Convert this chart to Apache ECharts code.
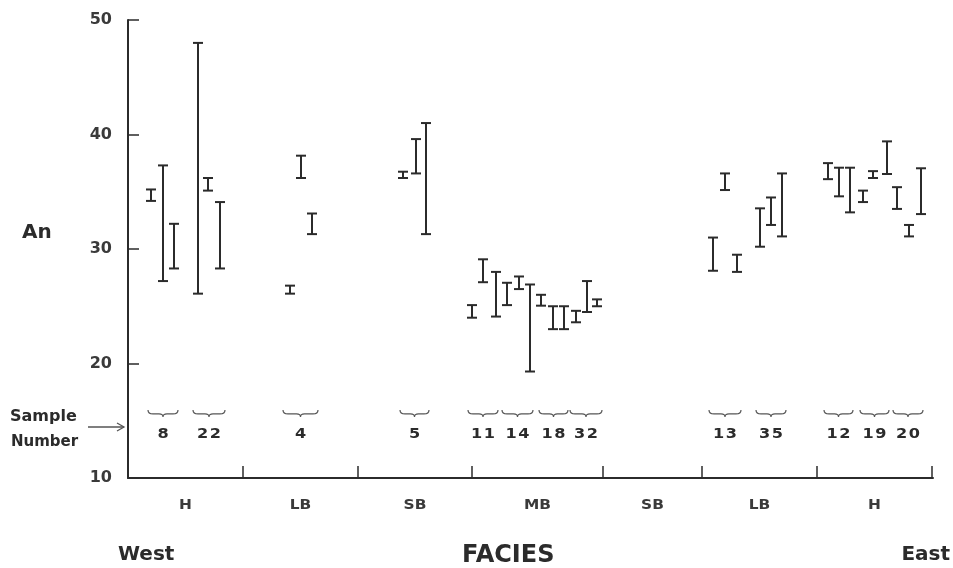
<!DOCTYPE html>
<html>
<head>
<meta charset="utf-8">
<script src="https://cdn.jsdelivr.net/npm/echarts@6/dist/echarts.min.js"></script>
<style>
html,body{margin:0;padding:0;background:#fff;}
#chart{width:953px;height:568px;}
</style>
</head>
<body>
<div id="chart"></div>
<script>
// Facies along the West→East transect (boundaries in transect distance units)
var faciesNames = ['H', 'LB', 'SB', 'MB', 'SB', 'LB', 'H'];
var faciesBounds = [0, 115, 230, 344, 475, 574, 689, 804];

// An content ranges: position along transect, low, high
var barPos  = [23, 35, 46, 70, 80, 92, 162, 173, 184, 275, 288, 298,
               344, 355, 368, 379, 391, 402, 413, 425, 436, 448, 459, 469,
               585, 597, 609, 632, 643, 654, 700, 711, 722, 735, 745, 759, 769, 781, 793];
var barLow  = [34.2, 27.2, 28.3, 26.1, 35.1, 28.3, 26.1, 36.2, 31.3, 36.2, 36.6, 31.3,
               24.0, 27.1, 24.1, 25.1, 26.5, 19.3, 25.05, 23.0, 23.0, 23.6, 24.5, 25.0,
               28.1, 35.15, 28.0, 30.2, 32.1, 31.1, 36.1, 34.6, 33.2, 34.1, 36.2, 36.55, 33.5, 31.1, 33.05];
var barHigh = [35.2, 37.3, 32.2, 48.0, 36.2, 34.1, 26.8, 38.15, 33.1, 36.75, 39.6, 41.0,
               25.1, 29.1, 28.0, 27.05, 27.6, 26.9, 26.0, 25.0, 25.0, 24.6, 27.2, 25.6,
               31.0, 36.6, 29.5, 33.55, 34.5, 36.6, 37.5, 37.1, 37.1, 35.1, 36.8, 39.4, 35.4, 32.1, 37.05];

// Sample groups: label, start, end along transect
var sampleLabels = ['8', '22', '4', '5', '11', '14', '18', '32', '13', '35', '12', '19', '20'];
var sampleStart  = [20, 65, 155, 272, 340, 374, 411, 442, 581, 628, 696, 732, 765];
var sampleEnd    = [50, 97, 190, 301, 370, 405, 440, 474, 613, 658, 725, 761, 795];

var yTicks = [10, 20, 30, 40, 50];
var braceLevel = 15.6;
var sampleNumLevel = 13.85;

var FONT = '"DejaVu Sans", Verdana, sans-serif';
var INK = '#2b2b2b';

var barData = barPos.map(function (x, i) { return [x, barLow[i], barHigh[i]]; });
var sampleData = sampleLabels.map(function (l, i) { return [sampleStart[i], sampleEnd[i], l]; });
var boundData = faciesBounds.slice(1).map(function (b) { return [b]; });
var faciesData = faciesNames.map(function (n, i) { return [(faciesBounds[i] + faciesBounds[i + 1]) / 2, n]; });

var chart = echarts.init(document.getElementById('chart'));
chart.setOption({
  animation: false,
  backgroundColor: '#fff',
  grid: { left: 128, top: 20, width: 805, height: 458 },
  xAxis: {
    type: 'value', min: faciesBounds[0], max: 805,
    axisLine: { show: true, lineStyle: { color: INK, width: 2 } },
    axisTick: { show: false }, axisLabel: { show: false }, splitLine: { show: false }
  },
  yAxis: {
    type: 'value', min: yTicks[0], max: yTicks[yTicks.length - 1], interval: 10,
    axisLine: { show: true, lineStyle: { color: INK, width: 2 } },
    axisTick: { show: true, inside: true, length: 11, lineStyle: { color: INK, width: 1.5 } },
    axisLabel: { color: '#3a3a3a', fontFamily: FONT, fontWeight: 'bold', fontSize: 16, margin: 16 },
    splitLine: { show: false }
  },
  series: [
    {
      type: 'custom', name: 'ranges', data: barData, clip: false,
      renderItem: function (params, api) {
        var top = api.coord([api.value(0), api.value(2)]);
        var bot = api.coord([api.value(0), api.value(1)]);
        var hw = 5;
        var st = { stroke: INK, lineWidth: 2 };
        return { type: 'group', children: [
          { type: 'line', shape: { x1: top[0], y1: top[1], x2: bot[0], y2: bot[1] }, style: st },
          { type: 'line', shape: { x1: top[0] - hw, y1: top[1], x2: top[0] + hw, y2: top[1] }, style: st },
          { type: 'line', shape: { x1: bot[0] - hw, y1: bot[1], x2: bot[0] + hw, y2: bot[1] }, style: st }
        ] };
      }
    },
    {
      type: 'custom', name: 'bounds', data: boundData, clip: false,
      renderItem: function (params, api) {
        var p = api.coord([api.value(0), yTicks[0]]);
        return { type: 'line', shape: { x1: p[0], y1: p[1], x2: p[0], y2: p[1] - 12 },
                 style: { stroke: INK, lineWidth: 1.5 } };
      }
    },
    {
      type: 'custom', name: 'facies', data: faciesData, clip: false,
      renderItem: function (params, api) {
        var p = api.coord([api.value(0), yTicks[0]]);
        return { type: 'text', x: p[0], y: p[1] + 27, scaleX: 1.1,
                 style: { text: faciesNames[params.dataIndex], fill: '#3a3a3a', font: 'bold 14px ' + FONT,
                          align: 'center', verticalAlign: 'middle' } };
      }
    },
    {
      type: 'custom', name: 'samples', data: sampleData, clip: false,
      renderItem: function (params, api) {
        var a = api.coord([api.value(0), braceLevel]);
        var b = api.coord([api.value(1), braceLevel]);
        var t = api.coord([(api.value(0) + api.value(1)) / 2, sampleNumLevel]);
        var x0 = a[0], x1 = b[0], y = a[1], m = (x0 + x1) / 2;
        var path = 'M' + x0 + ' ' + (y - 4) +
          ' Q' + x0 + ' ' + y + ' ' + (x0 + 5) + ' ' + y +
          ' L' + (m - 4) + ' ' + y +
          ' Q' + m + ' ' + y + ' ' + m + ' ' + (y + 3) +
          ' Q' + m + ' ' + y + ' ' + (m + 4) + ' ' + y +
          ' L' + (x1 - 5) + ' ' + y +
          ' Q' + x1 + ' ' + y + ' ' + x1 + ' ' + (y - 4);
        return { type: 'group', children: [
          { type: 'path', shape: { pathData: path }, style: { stroke: '#555', lineWidth: 1.2, fill: null } },
          { type: 'text', x: t[0], y: t[1], scaleX: 1.15,
            style: { text: sampleLabels[params.dataIndex].split('').join('\u200A'), fill: INK,
                     font: 'bold 14px ' + FONT, align: 'center', verticalAlign: 'middle' } }
        ] };
      }
    }
  ],
  graphic: [
    { type: 'text', x: 22, y: 233, style: { text: 'An', fill: INK, font: 'bold 20px ' + FONT, verticalAlign: 'middle' } },
    { type: 'text', x: 10, y: 417, style: { text: 'Sample', fill: INK, font: 'bold 16px ' + FONT, verticalAlign: 'middle' } },
    { type: 'text', x: 11, y: 442, style: { text: 'Number', fill: INK, font: 'bold 15px ' + FONT, verticalAlign: 'middle' } },
    { type: 'line', shape: { x1: 88, y1: 427, x2: 124, y2: 427 }, style: { stroke: '#555', lineWidth: 1.3 } },
    { type: 'polyline', shape: { points: [[117, 423], [124, 427], [117, 431]] }, style: { stroke: '#555', lineWidth: 1.3, fill: null } },
    { type: 'text', x: 118, y: 555, style: { text: 'West', fill: INK, font: 'bold 20px ' + FONT, verticalAlign: 'middle' } },
    { type: 'text', x: 462, y: 556, style: { text: 'FACIES', fill: INK, font: 'bold 24px ' + FONT, verticalAlign: 'middle' } },
    { type: 'text', x: 950, y: 555, style: { text: 'East', fill: INK, font: 'bold 20px ' + FONT, align: 'right', verticalAlign: 'middle' } }
  ]
});
</script>
</body>
</html>
